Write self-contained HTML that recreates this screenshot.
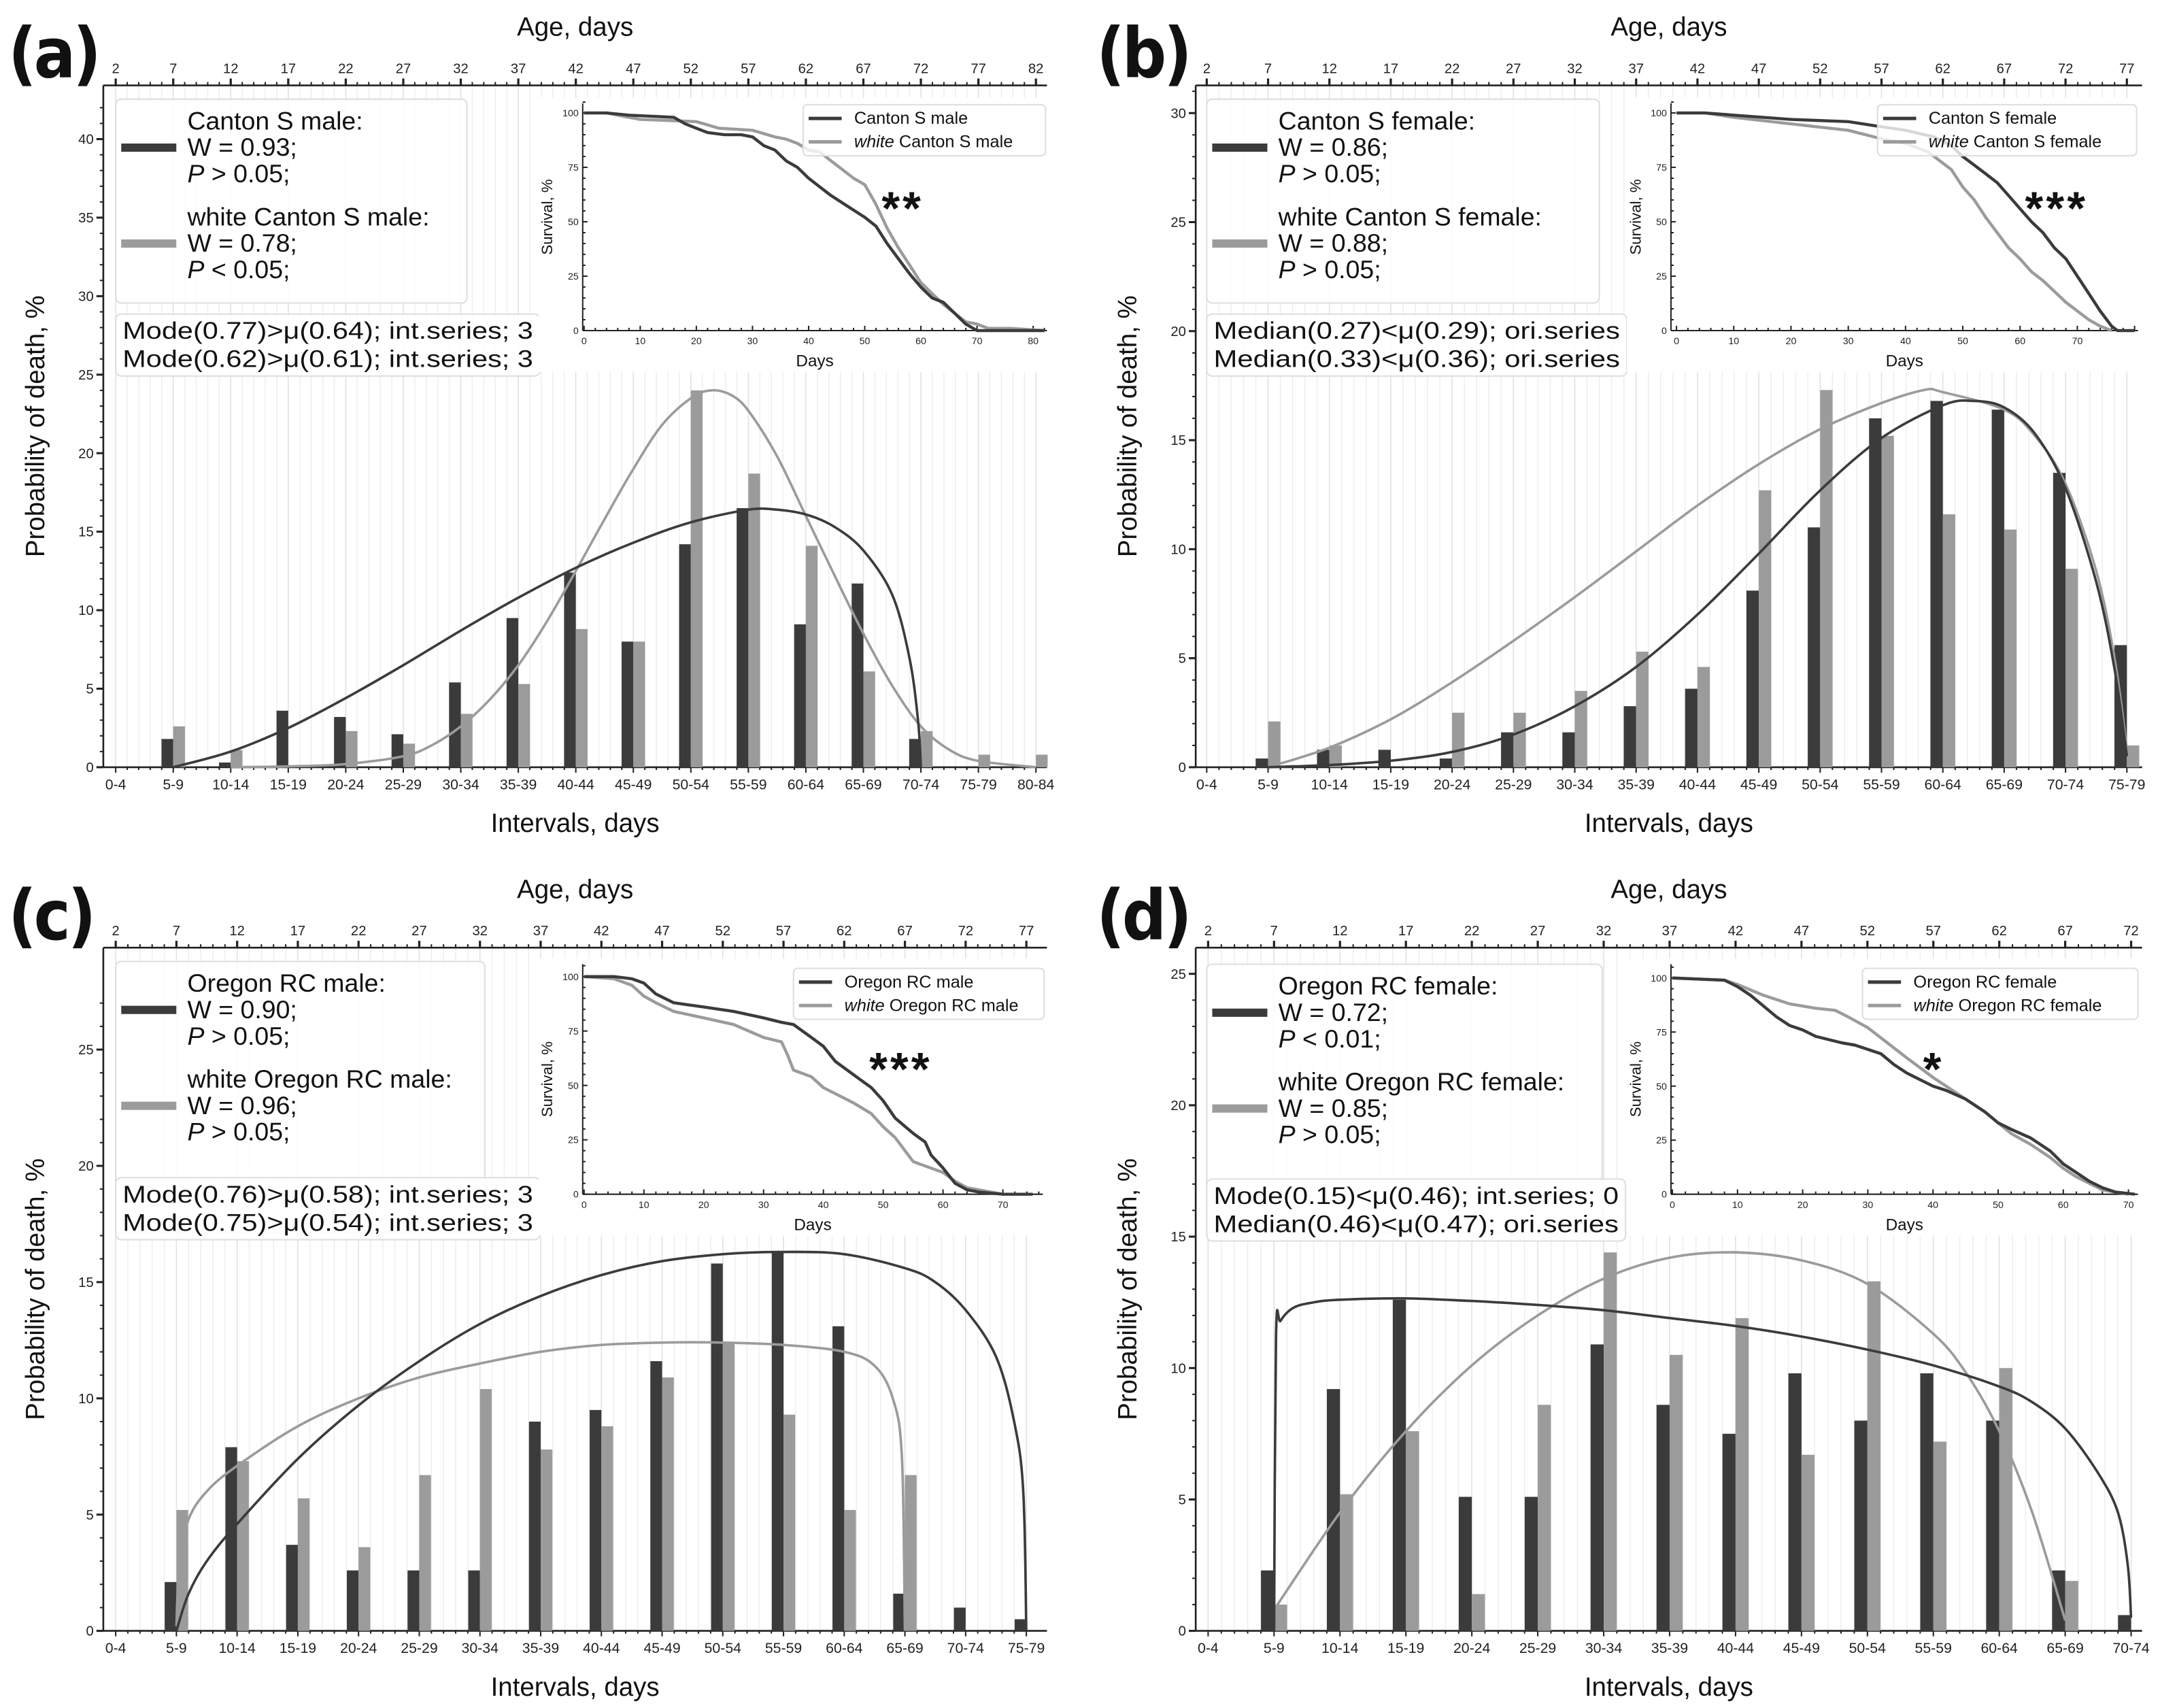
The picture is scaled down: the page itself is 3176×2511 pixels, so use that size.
<!DOCTYPE html>
<html><head><meta charset="utf-8"><style>
html,body{margin:0;padding:0;background:#fff;}
svg{display:block;font-family:"Liberation Sans","DejaVu Sans",sans-serif;}
</style></head><body>
<svg id="fig" width="3176" height="2511" viewBox="0 0 1568 1240" preserveAspectRatio="none" xmlns="http://www.w3.org/2000/svg"></svg>
<script>
// ===== Panel (a) data =====
const aCats = ["0-4","5-9","10-14","15-19","20-24","25-29","30-34","35-39","40-44","45-49","50-54","55-59","60-64","65-69","70-74","75-79","80-84"];
const aAges = [2,7,12,17,22,27,32,37,42,47,52,57,62,67,72,77,82];
const aDark = [0,1.8,0.3,3.6,3.2,2.1,5.4,9.5,12.4,8.0,14.2,16.5,9.1,11.7,1.8,0,0];
const aGray = [0,2.6,1.1,0,2.3,1.5,3.4,5.3,8.8,8.0,24.0,18.7,14.1,6.1,2.3,0.8,0.8];
const aFitDarkX = [1,2,3,4,5,6,7,8,9,10,11,11.5,12,12.5,13,13.5,13.8,13.95,14];
const aFitDarkY = [0,1,2.5,4.4,6.5,8.7,10.8,12.7,14.3,15.6,16.4,16.4,16.1,15.3,13.8,11,7,3,0];
const aFitGrayX = [2,3,4,5,5.5,6,6.5,7,7.5,8,8.5,9,9.5,10,10.35,10.7,11,11.5,12,12.5,13,13.5,14,14.5,15,16];
const aFitGrayY = [0,0.05,0.2,0.7,1.4,2.6,4.3,6.5,9.3,12.5,15.8,19,21.8,23.5,24,23.7,22.7,19.8,16,12.2,8.5,5.2,2.6,1.1,0.4,0];
const aSurvDarkX = [0,4,8,16,18,20,22,25,28,30,32,34,36,38,40,42,44,47,50,52,54,56,58,60,62,64,66,68,70,72,82];
const aSurvDarkY = [100,100,99,98,95,93,91,90,90,89,85,83,78,75,70,66,62,57,52,48,40,33,26,20,15,13,8,3,0,0,0];
const aSurvGrayX = [0,4,8,10,20,24,30,34,36,38,40,42,44,46,48,50,52,54,56,58,60,62,64,66,68,70,72,76,82];
const aSurvGrayY = [100,100,98,97,96,93,92,89,88,86,83,82,78,74,70,67,58,47,38,30,22,17,12,8,4,3,1,1,0];

// ===== Panel (b) data =====
const bCats = ["0-4","5-9","10-14","15-19","20-24","25-29","30-34","35-39","40-44","45-49","50-54","55-59","60-64","65-69","70-74","75-79"];
const bAges = [2,7,12,17,22,27,32,37,42,47,52,57,62,67,72,77];
const bDark = [0,0.4,0.8,0.8,0.4,1.6,1.6,2.8,3.6,8.1,11.0,16.0,16.8,16.4,13.5,5.6];
const bGray = [0,2.1,1.0,0,2.5,2.5,3.5,5.3,4.6,12.7,17.3,15.2,11.6,10.9,9.1,1.0];
const bFitDarkX = [1,2,3,4,5,6,7,8,9,10,11,12,12.5,13,13.5,14,14.5,14.8,15];
const bFitDarkY = [0,0.1,0.3,0.7,1.5,2.8,4.6,7,9.8,12.7,15.1,16.6,16.8,16.5,15.3,12.8,8.5,4.5,0.5];
const bFitGrayX = [1,2,3,4,5,6,7,8,9,10,11,11.7,12,13,13.5,14,14.5,14.8,15];
const bFitGrayY = [0,0.9,2.2,3.9,5.8,7.8,9.9,12,13.9,15.5,16.7,17.3,17.2,16.4,15.2,13,9,5,0.8];
const bSurvDarkX = [0,5,10,20,30,35,40,45,48,50,52,54,56,58,60,62,64,66,68,70,72,74,76,77,80];
const bSurvDarkY = [100,100,99,97,96,94,92,89,85,80,76,72,68,62,56,50,45,38,33,25,17,9,2,0,0];
const bSurvGrayX = [0,5,10,20,30,36,40,44,46,48,50,52,54,56,58,60,62,64,66,68,70,72,74,76];
const bSurvGrayY = [100,100,98,95,92,88,86,82,78,74,66,60,52,45,38,33,27,23,18,13,9,5,2,0];

// ===== Panel (c) data =====
const cCats = ["0-4","5-9","10-14","15-19","20-24","25-29","30-34","35-39","40-44","45-49","50-54","55-59","60-64","65-69","70-74","75-79"];
const cAges = [2,7,12,17,22,27,32,37,42,47,52,57,62,67,72,77];
const cDark = [0,2.1,7.9,3.7,2.6,2.6,2.6,9.0,9.5,11.6,15.8,16.3,13.1,1.6,1.0,0.5];
const cGray = [0,5.2,7.3,5.7,3.6,6.7,10.4,7.8,8.8,10.9,12.4,9.3,5.2,6.7,0,0];
const cFitDarkX = [1,1.2,1.5,2,3,4,5,6,7,8,9,10,11,12,13,13.5,14,14.5,14.8,14.95,15];
const cFitDarkY = [0,1.6,3,4.6,7.4,9.7,11.6,13.2,14.4,15.3,15.9,16.2,16.3,16.2,15.6,15,13.8,11.8,9,6,0];
const cFitGrayX = [1,1.05,1.2,1.5,2,3,4,5,6,7,8,9,10,11,12,12.5,12.8,12.95,13];
const cFitGrayY = [0.2,3,4.8,6,7.1,8.8,10,10.9,11.5,12,12.3,12.4,12.4,12.3,12,11.4,10,7.5,0];
const cSurvDarkX = [0,5,8,10,12,15,20,25,30,33,35,38,40,42,45,48,50,52,55,57,58,60,62,64,66,70,75];
const cSurvDarkY = [100,100,99,97,92,88,86,84,81,79,78,72,68,61,55,49,43,35,28,24,18,12,5,2,1,0,0];
const cSurvGrayX = [0,5,8,10,12,15,20,25,30,33,34,35,38,40,45,48,50,52,55,57,60,62,64,66,70];
const cSurvGrayY = [100,99,96,91,88,84,81,78,72,70,64,57,54,49,42,37,31,26,15,13,10,6,3,2,0];

// ===== Panel (d) data =====
const dCats = ["0-4","5-9","10-14","15-19","20-24","25-29","30-34","35-39","40-44","45-49","50-54","55-59","60-64","65-69","70-74"];
const dAges = [2,7,12,17,22,27,32,37,42,47,52,57,62,67,72];
const dDark = [0,2.3,9.2,12.6,5.1,5.1,10.9,8.6,7.5,9.8,8.0,9.8,8.0,2.3,0.6];
const dGray = [0,1.0,5.2,7.6,1.4,8.6,14.4,10.5,11.9,6.7,13.3,7.2,10.0,1.9,0];
const dFitDarkX = [1,1.03,1.1,1.3,1.6,2,3,4,5,6,7,8,9,10,11,12,12.5,13,13.5,13.8,13.95,14];
const dFitDarkY = [0,11.2,11.8,12.3,12.5,12.6,12.65,12.55,12.4,12.2,11.9,11.6,11.2,10.7,10.1,9.3,8.7,7.7,6,4.5,2.5,0.5];
const dFitGrayX = [1,2,3,4,5,6,7,8,9,10,11,11.5,12,12.5,13];
const dFitGrayY = [0.8,4.5,7.6,10.1,12,13.4,14.2,14.4,14.1,13.2,11.3,9.8,7.6,4.5,0.4];
const dSurvDarkX = [0,8,10,12,14,16,18,20,22,26,28,32,34,36,40,42,45,48,50,52,55,58,60,62,64,66,68,71];
const dSurvDarkY = [100,99,96,92,87,82,78,76,73,70,69,65,60,56,50,48,44,38,33,30,26,20,14,10,6,3,1,0];
const dSurvGrayX = [0,8,10,14,18,22,25,27,30,33,36,40,42,45,48,50,52,55,58,60,62,64,66,70];
const dSurvGrayY = [100,99,97,92,88,86,85,82,77,70,63,54,50,44,38,33,28,23,17,12,8,5,2,0];

const DARK = "#3b3b3b", GRAY = "#9b9b9b";
const NS = "http://www.w3.org/2000/svg";
const svg = document.getElementById("fig");
function el(tag, attrs, parent){
  const e = document.createElementNS(NS, tag);
  for (const k in attrs) e.setAttribute(k, attrs[k]);
  (parent || svg).appendChild(e);
  return e;
}
function txt(str, attrs, parent){
  const t = el("text", attrs, parent);
  t.textContent = str;
  return t;
}
// Catmull-Rom -> cubic bezier smoothing
function smoothPath(P){
  let d = "M" + P[0][0].toFixed(1) + "," + P[0][1].toFixed(1);
  for (let i = 0; i < P.length - 1; i++) {
    const p0 = P[Math.max(0, i - 1)], p1 = P[i], p2 = P[i + 1], p3 = P[Math.min(P.length - 1, i + 2)];
    const c1x = p1[0] + (p2[0] - p0[0]) / 6, c1y = p1[1] + (p2[1] - p0[1]) / 6;
    const c2x = p2[0] - (p3[0] - p1[0]) / 6, c2y = p2[1] - (p3[1] - p1[1]) / 6;
    d += " C" + c1x.toFixed(1) + "," + c1y.toFixed(1) + " " + c2x.toFixed(1) + "," + c2y.toFixed(1) + " " + p2[0].toFixed(1) + "," + p2[1].toFixed(1);
  }
  return d;
}

const panels = [
 {id:"a", label:"(a)", cats:aCats, ages:aAges, dark:aDark, gray:aGray, fdx:aFitDarkX, fdy:aFitDarkY, fgx:aFitGrayX, fgy:aFitGrayY,
  sdx:aSurvDarkX, sdy:aSurvDarkY, sgx:aSurvGrayX, sgy:aSurvGrayY,
  L:75,R:760,T:62,B:557,x0:84,step:41.75,ppu:11.4,ymax:40,bw:8.5,lblX:6,
  leg:{x:84,y:72,w:255,h:148}, stat:{x:84,y:228,w:308,h:45},
  names:["Canton S male:","W = 0.93;","> 0.05;","white Canton S male:","W = 0.78;","< 0.05;"],
  stats:["Mode(0.77)>μ(0.64); int.series; 3","Mode(0.62)>μ(0.61); int.series; 3"],
  ins:{L:423,R:760,T:75,B:240,d0:424,ppd:4.075,y100:82,dmax:82,ticks:[0,10,20,30,40,50,60,70,80]},
  il:{x:583,y:76,w:176,h:37,n1:"Canton S male",n2:" Canton S male"}, stars:"**", starX:640},
 {id:"b", label:"(b)", cats:bCats, ages:bAges, dark:bDark, gray:bGray, fdx:bFitDarkX, fdy:bFitDarkY, fgx:bFitGrayX, fgy:bFitGrayY,
  sdx:bSurvDarkX, sdy:bSurvDarkY, sgx:bSurvGrayX, sgy:bSurvGrayY,
  L:868,R:1555,T:62,B:557,x0:876,step:44.53,ppu:15.83,ymax:30,bw:9,lblX:796,
  leg:{x:876,y:72,w:285,h:148}, stat:{x:876,y:228,w:305,h:45},
  names:["Canton S female:","W = 0.86;","> 0.05;","white Canton S female:","W = 0.88;","> 0.05;"],
  stats:["Median(0.27)<μ(0.29); ori.series","Median(0.33)<μ(0.36); ori.series"],
  ins:{L:1213,R:1552,T:75,B:240,d0:1217,ppd:4.157,y100:82,dmax:80,ticks:[0,10,20,30,40,50,60,70]},
  il:{x:1363,y:76,w:188,h:37,n1:"Canton S female",n2:" Canton S female"}, stars:"***", starX:1470},
 {id:"c", label:"(c)", cats:cCats, ages:cAges, dark:cDark, gray:cGray, fdx:cFitDarkX, fdy:cFitDarkY, fgx:cFitGrayX, fgy:cFitGrayY,
  sdx:cSurvDarkX, sdy:cSurvDarkY, sgx:cSurvGrayX, sgy:cSurvGrayY,
  L:75,R:760,T:688,B:1184,x0:84,step:44.07,ppu:16.88,ymax:25,bw:8.5,lblX:6,
  leg:{x:84,y:698,w:268,h:197}, stat:{x:84,y:855,w:308,h:45},
  names:["Oregon RC male:","W = 0.90;","> 0.05;","white Oregon RC male:","W = 0.96;","> 0.05;"],
  stats:["Mode(0.76)>μ(0.58); int.series; 3","Mode(0.75)>μ(0.54); int.series; 3"],
  ins:{L:423,R:757,T:700,B:867,d0:424,ppd:4.343,y100:709,dmax:76,ticks:[0,10,20,30,40,50,60,70]},
  il:{x:576,y:703,w:182,h:37,n1:"Oregon RC male",n2:" Oregon RC male"}, stars:"***", starX:631},
 {id:"d", label:"(d)", cats:dCats, ages:dAges, dark:dDark, gray:dGray, fdx:dFitDarkX, fdy:dFitDarkY, fgx:dFitGrayX, fgy:dFitGrayY,
  sdx:dSurvDarkX, sdy:dSurvDarkY, sgx:dSurvGrayX, sgy:dSurvGrayY,
  L:868,R:1555,T:688,B:1184,x0:877,step:47.86,ppu:19.08,ymax:25,bw:9.5,lblX:796,
  leg:{x:876,y:700,w:287,h:195}, stat:{x:876,y:856,w:304,h:45},
  names:["Oregon RC female:","W = 0.72;","< 0.01;","white Oregon RC female:","W = 0.85;","> 0.05;"],
  stats:["Mode(0.15)<μ(0.46); int.series; 0","Median(0.46)<μ(0.47); ori.series"],
  ins:{L:1213,R:1552,T:700,B:867,d0:1214,ppd:4.73,y100:710,dmax:71,ticks:[0,10,20,30,40,50,60,70]},
  il:{x:1352,y:703,w:200,h:37,n1:"Oregon RC female",n2:" Oregon RC female"}, stars:"*", starX:1396}
];

panels.forEach(p => {
  const g = el("g", {});
  
  
  const xs = i => p.x0 + i * p.step;
  const ys = v => p.B - v * p.ppu;
  const dayW = p.step / 5;
  const nDays = (p.cats.length - 1) * 5;
  const grid = el("g", {}, g);
  
  
  for (let k = 0; k <= nDays; k++) {
    const x = p.x0 + k * dayW;
    el("line", {x1:x, x2:x, y1:p.T, y2:p.B, stroke: k%5===0 ? "#e2e2e2" : "#efefef", "stroke-width":0.8}, grid);
  }
  const pl = txt(p.label, {x:p.lblX, y:p.T - 6, "font-size":50, "font-weight":"bold", fill:"#111", "font-family":"'DejaVu Sans Condensed','DejaVu Sans',sans-serif", "letter-spacing":"-2"}, g);
  
  
  const cx = (p.L + p.R) / 2;
  const at = txt("Age, days", {x:cx, y:p.T - 36, "font-size":19, "text-anchor":"middle", fill:"#111"}, g);
  
  
  el("line", {x1:p.L, x2:p.R, y1:p.T, y2:p.T, stroke:"#222", "stroke-width":1.3}, g);
  for (let k = 0; k <= nDays; k++) {
    const x = p.x0 + k * dayW;
    el("line", {x1:x, x2:x, y1:p.T, y2:p.T - (k%5===0 ? 5 : 2.5), stroke:"#222", "stroke-width": k%5===0 ? 1.6 : 1}, g);
  }
  p.ages.forEach((a, i) => {
    const t = txt(String(a), {x:xs(i), y:p.T - 9, "font-size":10, "text-anchor":"middle", fill:"#222"}, g);
    
    
  });
  el("line", {x1:p.L, x2:p.L, y1:p.T, y2:p.B, stroke:"#222", "stroke-width":1.3}, g);
  for (let v = 0; v <= p.ymax + 2; v++) {
    if (ys(v) < p.T) break;
    el("line", {x1:p.L, x2:p.L - (v%5===0 ? 5 : 2.5), y1:ys(v), y2:ys(v), stroke:"#222", "stroke-width": v%5===0 ? 1.5 : 1}, g);
    if (v % 5 === 0 && v <= p.ymax) {
      const t = txt(String(v), {x:p.L - 7, y:ys(v) + 3.5, "font-size":10, "text-anchor":"end", fill:"#222"}, g);
      
      
    }
  }
  const yt = txt("Probability of death, %", {x:0, y:0, "font-size":19, "text-anchor":"middle", fill:"#111",
    transform:`translate(${p.L - 43},${(p.T + p.B) / 2}) rotate(-90)`}, g);
  
  
  el("line", {x1:p.L, x2:p.R, y1:p.B, y2:p.B, stroke:"#222", "stroke-width":1.3}, g);
  for (let k = 0; k <= nDays; k++) {
    const x = p.x0 + k * dayW;
    el("line", {x1:x, x2:x, y1:p.B, y2:p.B + (k%5===0 ? 4 : 2), stroke:"#222", "stroke-width":1}, g);
  }
  p.cats.forEach((c, i) => {
    const t = txt(c, {x:xs(i), y:p.B + 16, "font-size":10.5, "text-anchor":"middle", fill:"#222"}, g);
    
    
  });
  const xt = txt("Intervals, days", {x:cx, y:p.B + 47, "font-size":19, "text-anchor":"middle", fill:"#111"}, g);
  
  
  p.dark.forEach((v, i) => {
    if (v <= 0) return;
    const r = el("rect", {x:xs(i) - p.bw, y:ys(v), width:p.bw, height:v * p.ppu, fill:DARK}, g);
    
    
  });
  p.gray.forEach((v, i) => {
    if (v <= 0) return;
    const r = el("rect", {x:xs(i), y:ys(v), width:p.bw, height:v * p.ppu, fill:GRAY}, g);
    
    
  });
  const fit = (X, Y, col, nm) => {
    const P = X.map((x, i) => [xs(x), ys(Y[i])]);
    const l = el("path", {d:smoothPath(P), fill:"none", stroke:col, "stroke-width":1.8, "stroke-linejoin":"round"}, g);
    
    
  };
  fit(p.fgx, p.fgy, GRAY, 'fit-curve-white');
  fit(p.fdx, p.fdy, DARK, 'fit-curve-wildtype');
  const lg = el("g", {}, g);
  
  
  el("rect", {x:p.leg.x, y:p.leg.y, width:p.leg.w, height:p.leg.h, rx:4, fill:"#fff", "fill-opacity":0.85, stroke:"#ddd", "stroke-width":1}, lg);
  const lx = p.leg.x + 52, ly = p.leg.y + 22, lh = 19.2, gap = 12;
  const rows = [ly, ly + lh, ly + 2*lh, ly + 3*lh + gap, ly + 4*lh + gap, ly + 5*lh + gap];
  [0,1,2,3,4,5].forEach(j => {
    const t = el("text", {x:lx, y:rows[j], "font-size":18.5, fill:"#111"}, lg);
    if (j === 2 || j === 5) {
      const ts = el("tspan", {"font-style":"italic"}, t); ts.textContent = "P";
      const ts2 = el("tspan", {}, t); ts2.textContent = " " + p.names[j];
    } else t.textContent = p.names[j];
    
    
  });
  const sw1 = el("line", {x1:p.leg.x + 4, x2:p.leg.x + 44, y1:rows[1] - 6, y2:rows[1] - 6, stroke:DARK, "stroke-width":6}, lg);
  
  
  const sw2 = el("line", {x1:p.leg.x + 4, x2:p.leg.x + 44, y1:rows[4] - 6, y2:rows[4] - 6, stroke:GRAY, "stroke-width":6}, lg);
  
  
  const sb = el("g", {}, g);
  
  
  el("rect", {x:p.stat.x, y:p.stat.y, width:p.stat.w, height:p.stat.h, rx:4, fill:"#fff", "fill-opacity":0.85, stroke:"#ddd", "stroke-width":1}, sb);
  p.stats.forEach((s, j) => {
    const t = txt(s, {x:p.stat.x + 5, y:p.stat.y + 18 + j * 20.5, "font-size":17.5, fill:"#111", textLength:p.stat.w - 10, lengthAdjust:"spacingAndGlyphs"}, sb);
    
    
  });
  const I = p.ins;
  const ig = el("g", {}, g);
  
  
  el("rect", {x:I.L - 32, y:I.T - 4, width:I.R - I.L + 34, height:I.B - I.T + 34, fill:"#fff"}, ig);
  const ix = d => I.d0 + d * I.ppd;
  const iy = v => I.B - (I.B - I.y100) * v / 100;
  el("line", {x1:I.L, x2:I.L, y1:I.T, y2:I.B, stroke:"#222", "stroke-width":1}, ig);
  el("line", {x1:I.L, x2:I.R, y1:I.B, y2:I.B, stroke:"#222", "stroke-width":1}, ig);
  for (let v = 0; v <= 105; v += 5) {
    el("line", {x1:I.L, x2:I.L + (v%25===0 ? 3.5 : 2), y1:iy(v), y2:iy(v), stroke:"#222", "stroke-width":1}, ig);
    if (v % 25 === 0) {
      const t = txt(String(v), {x:I.L - 3, y:iy(v) + 2.5, "font-size":7, "text-anchor":"end", fill:"#222"}, ig);
      
      
    }
  }
  for (let d = 0; d <= I.dmax; d += 2) {
    el("line", {x1:ix(d), x2:ix(d), y1:I.B, y2:I.B - (d%10===0 ? 3.5 : 2), stroke:"#222", "stroke-width":1}, ig);
  }
  I.ticks.forEach(d => {
    const t = txt(String(d), {x:ix(d), y:I.B + 10, "font-size":7, "text-anchor":"middle", fill:"#222"}, ig);
    
    
  });
  const dl = txt("Days", {x:(I.L + I.R) / 2, y:I.B + 26, "font-size":12, "text-anchor":"middle", fill:"#111"}, ig);
  
  
  const sl = txt("Survival, %", {x:0, y:0, "font-size":11, "text-anchor":"middle", fill:"#111",
    transform:`translate(${I.L - 22},${(I.T + I.B) / 2}) rotate(-90)`}, ig);
  
  
  const surv = (X, Y, col, nm) => {
    const pts = X.map((x, i) => ix(x).toFixed(1) + "," + iy(Y[i]).toFixed(1));
    const l = el("polyline", {points:pts.join(" "), fill:"none", stroke:col, "stroke-width":2.2, "stroke-linejoin":"round"}, ig);
    
    
  };
  surv(p.sgx, p.sgy, GRAY, 'survival-curve-white');
  surv(p.sdx, p.sdy, DARK, 'survival-curve-wildtype');
  const L2 = p.il;
  const ilg = el("g", {}, ig);
  
  
  el("rect", {x:L2.x, y:L2.y, width:L2.w, height:L2.h, rx:3, fill:"#fff", "fill-opacity":0.8, stroke:"#ddd", "stroke-width":1}, ilg);
  el("line", {x1:L2.x + 4, x2:L2.x + 28, y1:L2.y + 10, y2:L2.y + 10, stroke:DARK, "stroke-width":2.5}, ilg);
  el("line", {x1:L2.x + 4, x2:L2.x + 28, y1:L2.y + 27, y2:L2.y + 27, stroke:GRAY, "stroke-width":2.5}, ilg);
  const t1 = txt(L2.n1, {x:L2.x + 37, y:L2.y + 14, "font-size":12.5, fill:"#111"}, ilg);
  
  
  const t2 = el("text", {x:L2.x + 37, y:L2.y + 31, "font-size":12.5, fill:"#111"}, ilg);
  const w1 = el("tspan", {"font-style":"italic"}, t2); w1.textContent = "white";
  const w2 = el("tspan", {}, t2); w2.textContent = L2.n2;
  
  
  const st = txt(p.stars, {x:p.starX, y:I.T + 88, "font-size":34, "font-weight":"bold", fill:"#111", "letter-spacing":"2"}, ig);
  
  
});
</script>
</body></html>
